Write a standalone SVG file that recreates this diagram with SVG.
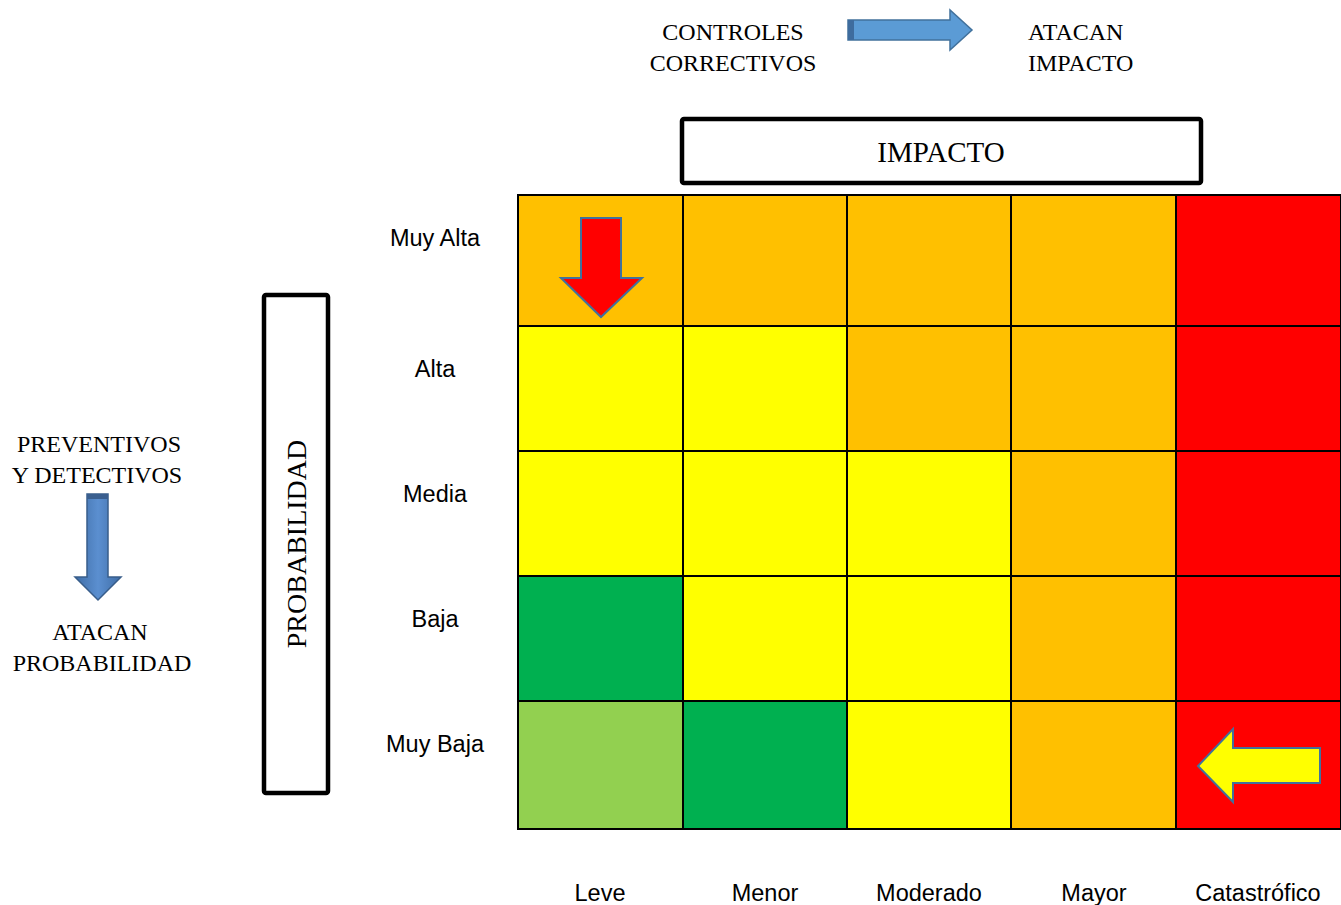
<svg xmlns="http://www.w3.org/2000/svg" width="1341" height="905" viewBox="0 0 1341 905">
<style>
.serif{font-family:"Liberation Serif","Times New Roman",serif;fill:#000}
.sans{font-family:"Liberation Sans",Arial,sans-serif;font-size:23.5px;fill:#000}
.cell{stroke:#000;stroke-width:2}
.o{fill:#FFC000}.y{fill:#FFFF00}.r{fill:#FF0000}.g{fill:#00B050}.lg{fill:#92D050}
.box{fill:#fff;stroke:#000;stroke-width:4.5}
</style>
<defs>
<linearGradient id="bluev" x1="0" y1="0" x2="1" y2="0">
<stop offset="0" stop-color="#3F6DA6"/><stop offset="0.5" stop-color="#5B8FD0"/><stop offset="1" stop-color="#3F6DA6"/>
</linearGradient>
</defs>
<rect width="1341" height="905" fill="#fff"/>
<g id="top-text">
<text class="serif" font-size="24" x="733" y="40" text-anchor="middle">CONTROLES</text>
<text class="serif" font-size="24" x="733" y="71" text-anchor="middle">CORRECTIVOS</text>
<text class="serif" font-size="24" x="1028" y="40">ATACAN</text>
<text class="serif" font-size="24" x="1028" y="71">IMPACTO</text>
</g>
<g id="arrow-correctivos">
<polygon points="848,20 950,20 950,10 972,30 950,50 950,40 848,40" fill="#5B9BD5" stroke="#41719C" stroke-width="1.5"/>
<rect x="848" y="20" width="6" height="20" fill="#3E6C9E"/>
</g>
<g id="impacto-box">
<rect class="box" x="682" y="119" width="519" height="64" rx="2"/>
<text class="serif" font-size="29" x="941" y="162" text-anchor="middle">IMPACTO</text>
</g>
<g id="left-text">
<text class="serif" font-size="24" x="99" y="452" text-anchor="middle">PREVENTIVOS</text>
<text class="serif" font-size="24" x="97" y="483" text-anchor="middle">Y DETECTIVOS</text>
<text class="serif" font-size="24" x="100" y="640" text-anchor="middle">ATACAN</text>
<text class="serif" font-size="24" x="102" y="671" text-anchor="middle">PROBABILIDAD</text>
</g>
<g id="arrow-preventivos">
<polygon points="87,494 108,494 108,577 121,577 98,600 75,577 87,577" fill="url(#bluev)" stroke="#385D8A" stroke-width="1.5"/>
<rect x="87" y="494" width="21" height="5" fill="#3A5F8F"/>
</g>
<g id="probabilidad-box">
<rect class="box" x="264" y="295" width="64" height="498" rx="2"/>
<text class="serif" font-size="28" transform="translate(306,544) rotate(-90)" text-anchor="middle">PROBABILIDAD</text>
</g>
<g id="grid">
<rect class="cell o" x="518" y="195" width="165" height="131"/>
<rect class="cell o" x="683" y="195" width="164" height="131"/>
<rect class="cell o" x="847" y="195" width="164" height="131"/>
<rect class="cell o" x="1011" y="195" width="165" height="131"/>
<rect class="cell r" x="1176" y="195" width="165" height="131"/>
<rect class="cell y" x="518" y="326" width="165" height="125"/>
<rect class="cell y" x="683" y="326" width="164" height="125"/>
<rect class="cell o" x="847" y="326" width="164" height="125"/>
<rect class="cell o" x="1011" y="326" width="165" height="125"/>
<rect class="cell r" x="1176" y="326" width="165" height="125"/>
<rect class="cell y" x="518" y="451" width="165" height="125"/>
<rect class="cell y" x="683" y="451" width="164" height="125"/>
<rect class="cell y" x="847" y="451" width="164" height="125"/>
<rect class="cell o" x="1011" y="451" width="165" height="125"/>
<rect class="cell r" x="1176" y="451" width="165" height="125"/>
<rect class="cell g" x="518" y="576" width="165" height="125"/>
<rect class="cell y" x="683" y="576" width="164" height="125"/>
<rect class="cell y" x="847" y="576" width="164" height="125"/>
<rect class="cell o" x="1011" y="576" width="165" height="125"/>
<rect class="cell r" x="1176" y="576" width="165" height="125"/>
<rect class="cell lg" x="518" y="701" width="165" height="128"/>
<rect class="cell g" x="683" y="701" width="164" height="128"/>
<rect class="cell y" x="847" y="701" width="164" height="128"/>
<rect class="cell o" x="1011" y="701" width="165" height="128"/>
<rect class="cell r" x="1176" y="701" width="165" height="128"/>
</g>
<g id="row-labels">
<text class="sans" x="435" y="246" text-anchor="middle">Muy Alta</text>
<text class="sans" x="435" y="377" text-anchor="middle">Alta</text>
<text class="sans" x="435" y="502" text-anchor="middle">Media</text>
<text class="sans" x="435" y="627" text-anchor="middle">Baja</text>
<text class="sans" x="435" y="752" text-anchor="middle">Muy Baja</text>
</g>
<g id="col-labels">
<text class="sans" x="600" y="901" text-anchor="middle">Leve</text>
<text class="sans" x="765" y="901" text-anchor="middle">Menor</text>
<text class="sans" x="929" y="901" text-anchor="middle">Moderado</text>
<text class="sans" x="1094" y="901" text-anchor="middle">Mayor</text>
<text class="sans" x="1258" y="901" text-anchor="middle">Catastrófico</text>
</g>
<g id="arrow-red">
<polygon points="581,218 621,218 621,278 642,278 601,317 561,278 581,278" fill="#FF0000" stroke="#41719C" stroke-width="2"/>
</g>
<g id="arrow-yellow">
<polygon points="1320,748 1320,783 1233,783 1233,802 1198,766 1233,729 1233,748" fill="#FFFF00" stroke="#41719C" stroke-width="2"/>
</g>
</svg>
